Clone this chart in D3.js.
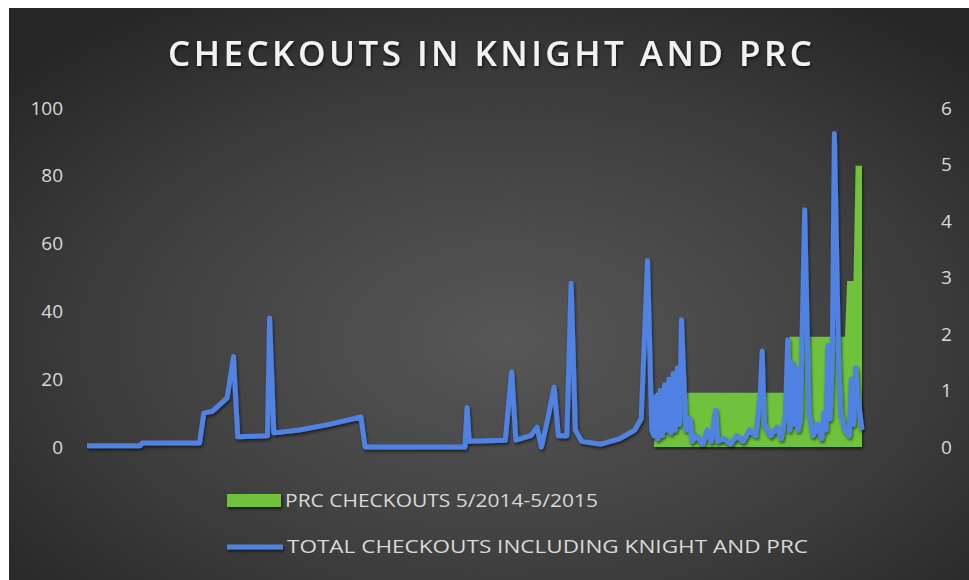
<!DOCTYPE html>
<html>
<head>
<meta charset="utf-8">
<script src="https://cdn.jsdelivr.net/npm/d3@7"></script>
<style>
  body { margin: 0; background: #fff; }
  text { font-family: "Open Sans", "DejaVu Sans", sans-serif; }
</style>
</head>
<body>
<div id="my-svg"></div>
<script>
// day number (0 = start of 5/2014) and checkouts
const totalDays = [0, 25, 26, 53, 55, 59, 66, 69, 71, 85, 86, 88, 100, 114, 129, 131, 178, 179, 180, 197,
  200, 202, 209, 212, 214, 217, 220, 222, 226, 228, 230, 233, 242, 251, 258, 261, 264, 266, 267, 268,
  269, 270, 271, 272, 273, 274, 275, 276, 277, 278, 279, 280, 282, 284, 285, 287, 290, 292, 294, 296,
  297, 300, 303, 306, 309, 312, 315, 317, 318, 319, 322, 325, 327, 329, 330, 331, 332, 333, 334, 335,
  336, 338, 340, 342, 344, 346, 347, 348, 349, 350, 351, 352, 354, 355, 357, 359, 360, 361, 362, 363, 365];
const totalCheckouts = [0.02, 0.02, 0.07, 0.07, 0.6, 0.63, 0.87, 1.6, 0.18, 0.2, 2.28, 0.25, 0.3, 0.4, 0.53, 0, 0, 0.7, 0.1, 0.12,
  1.33, 0.12, 0.2, 0.35, 0, 0.5, 1.06, 0.2, 0.2, 2.9, 0.3, 0.1, 0.05, 0.15, 0.3, 0.5, 3.3, 0.3, 0.2, 0.9,
  0.15, 1.0, 0.2, 1.1, 0.3, 1.2, 0.25, 1.3, 0.3, 1.4, 0.4, 2.25, 0.3, 0.5, 0.1, 0.2, 0.05, 0.3, 0.1, 0.65,
  0.1, 0.15, 0.05, 0.2, 0.1, 0.3, 0.2, 0.9, 1.7, 0.4, 0.2, 0.35, 0.15, 0.6, 1.9, 0.3, 1.5, 0.4, 1.4, 0.3,
  0.5, 4.2, 0.6, 0.2, 0.4, 0.15, 0.6, 0.3, 1.8, 0.5, 1.6, 5.55, 1.5, 0.6, 0.3, 0.2, 1.2, 0.4, 1.4, 0.9, 0.3];

const prcDays = [0, 267, 268, 330, 331, 357, 358, 361, 362, 365];
const prcCheckouts = [0, 0, 16, 16, 32.5, 32.5, 49, 49, 83, 83];

const leftTicks = [0, 20, 40, 60, 80, 100];
const rightTicks = [0, 1, 2, 3, 4, 5, 6];
const title = "CHECKOUTS IN KNIGHT AND PRC";
const legendLabels = ["PRC CHECKOUTS 5/2014-5/2015", "TOTAL CHECKOUTS INCLUDING KNIGHT AND PRC"];

const width = 969, height = 580,
    margin = {top: 108, bottom: 133, left: 87, right: 107},
    blue = "#4f82e3", green = "#70c23e", labelColor = "#d9d9d9";

const xScale = d3.scaleLinear()
    .domain([0, 365])
    .range([margin.left, width - margin.right]);

const yLeft = d3.scaleLinear()
    .domain([0, 100])
    .range([height - margin.bottom, margin.top]);

const yRight = d3.scaleLinear()
    .domain([0, 6])
    .range([height - margin.bottom, margin.top]);

const svg = d3.select("#my-svg")
    .append("svg")
    .attr("width", width)
    .attr("height", height);

const defs = svg.append("defs");
const grad = defs.append("radialGradient")
    .attr("id", "bg")
    .attr("cx", "52%").attr("cy", "58%").attr("r", "70%");
grad.append("stop").attr("offset", "0%").attr("stop-color", "#575757");
grad.append("stop").attr("offset", "55%").attr("stop-color", "#404040");
grad.append("stop").attr("offset", "100%").attr("stop-color", "#262626");

defs.append("filter").attr("id", "shadow")
    .attr("filterUnits", "userSpaceOnUse")
    .attr("x", 0).attr("y", 0).attr("width", width).attr("height", height)
    .append("feDropShadow")
    .attr("dx", 1).attr("dy", 2).attr("stdDeviation", 1.5)
    .attr("flood-color", "#000").attr("flood-opacity", 0.6);

// chart background (white strip on top / left like the screenshot)
svg.append("rect")
    .attr("x", 9).attr("y", 8)
    .attr("width", width - 9).attr("height", height - 8)
    .attr("fill", "url(#bg)");

svg.append("text")
    .attr("x", 490).attr("y", 66)
    .attr("text-anchor", "middle")
    .attr("fill", "#f2f2f2")
    .attr("font-size", 35)
    .attr("font-weight", 600)
    .attr("textLength", 644)
    .attr("lengthAdjust", "spacing")
    .attr("filter", "url(#shadow)")
    .text(title);

// axes labels (no lines in the reference)
svg.append("g").selectAll("text")
    .data(leftTicks)
    .join("text")
    .attr("x", 63)
    .attr("y", d => yLeft(d))
    .attr("dy", "0.35em")
    .attr("text-anchor", "end")
    .attr("fill", labelColor)
    .attr("font-size", 19)
    .text(d => d);

svg.append("g").selectAll("text")
    .data(rightTicks)
    .join("text")
    .attr("x", 941)
    .attr("y", d => yRight(d))
    .attr("dy", "0.35em")
    .attr("fill", labelColor)
    .attr("font-size", 19)
    .text(d => d);

// PRC area on left axis
const prc = prcDays.map((d, i) => ({day: d, value: prcCheckouts[i]}));
const area = d3.area()
    .x(d => xScale(d.day))
    .y0(yLeft(0))
    .y1(d => yLeft(d.value));

svg.append("path")
    .datum(prc)
    .attr("d", area)
    .attr("fill", green)
    .attr("filter", "url(#shadow)");

// total line on right axis
const total = totalDays.map((d, i) => ({day: d, value: totalCheckouts[i]}));
const line = d3.line()
    .x(d => xScale(d.day))
    .y(d => yRight(d.value));

svg.append("path")
    .datum(total)
    .attr("d", line)
    .attr("fill", "none")
    .attr("stroke", blue)
    .attr("stroke-width", 5)
    .attr("stroke-linejoin", "round")
    .attr("filter", "url(#shadow)");

// legend
const legend = svg.append("g");
legend.append("rect")
    .attr("x", 227).attr("y", 494)
    .attr("width", 54).attr("height", 13)
    .attr("fill", green)
    .attr("filter", "url(#shadow)");
legend.append("rect")
    .attr("x", 227).attr("y", 544.5)
    .attr("width", 56).attr("height", 5)
    .attr("fill", blue)
    .attr("filter", "url(#shadow)");

legend.selectAll("text")
    .data(legendLabels)
    .join("text")
    .attr("x", (d, i) => i == 0 ? 285 : 287)
    .attr("y", (d, i) => i == 0 ? 501 : 547)
    .attr("dy", "0.35em")
    .attr("fill", labelColor)
    .attr("font-size", 18)
    .attr("textLength", (d, i) => i == 0 ? 313 : 521)
    .attr("lengthAdjust", "spacingAndGlyphs")
    .text(d => d);
</script>
</body>
</html>
